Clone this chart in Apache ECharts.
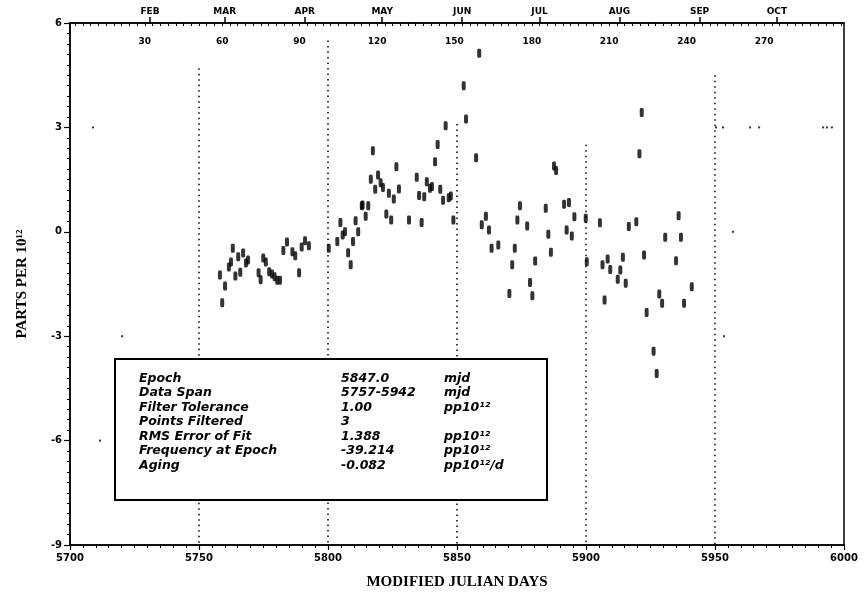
<!DOCTYPE html>
<html><head><meta charset="utf-8">
<script src="https://cdn.jsdelivr.net/npm/echarts@6/dist/echarts.min.js"></script>
<style>html,body{margin:0;padding:0;background:#fff}#c{width:864px;height:603px}</style>
</head><body><div id="c"></div>
<script>
// Measurements (MJD - 40000) and fractional frequency (parts per 10^12)
const mjd = [5758.1,5759.0,5760.1,5761.6,5762.4,5763.1,5764.1,5765.2,5766.0,5767.1,5768.2,5769.0,5773.1,5773.9,5774.9,5775.9,5777.2,5778.3,5779.3,5780.3,5781.4,5782.7,5784.1,5786.2,5787.3,5788.8,5789.8,5791.1,5792.6,5800.3,5803.6,5804.8,5805.7,5806.6,5807.8,5808.8,5809.7,5810.7,5811.7,5813.1,5813.4,5814.6,5815.6,5816.6,5817.4,5818.3,5819.4,5820.4,5821.3,5822.6,5823.6,5824.5,5825.5,5826.5,5827.5,5831.4,5834.4,5835.3,5836.3,5837.3,5838.3,5839.5,5840.3,5841.5,5842.5,5843.5,5844.6,5845.6,5846.8,5847.6,5848.6,5852.6,5853.5,5857.4,5858.6,5859.6,5861.2,5862.4,5863.4,5866.0,5870.3,5871.4,5872.4,5873.4,5874.4,5877.2,5878.3,5879.2,5880.3,5884.4,5885.4,5886.4,5887.6,5888.4,5891.5,5892.5,5893.4,5894.5,5895.5,5899.9,5900.3,5905.4,5906.4,5907.2,5908.4,5909.4,5912.3,5913.3,5914.3,5915.4,5916.6,5919.5,5920.7,5921.6,5922.5,5923.5,5926.2,5927.4,5928.4,5929.5,5930.7,5934.9,5935.9,5936.8,5938.0,5941.0];
const ppt = [-1.24,-2.04,-1.56,-1.01,-0.87,-0.47,-1.27,-0.72,-1.16,-0.61,-0.90,-0.81,-1.18,-1.38,-0.75,-0.87,-1.15,-1.21,-1.29,-1.39,-1.39,-0.54,-0.29,-0.57,-0.69,-1.18,-0.44,-0.26,-0.40,-0.47,-0.28,0.27,-0.09,0.00,-0.60,-0.95,-0.28,0.32,0.00,0.75,0.77,0.45,0.75,1.51,2.33,1.22,1.63,1.41,1.27,0.51,1.11,0.34,0.94,1.87,1.23,0.34,1.57,1.04,0.27,1.01,1.44,1.25,1.30,2.01,2.51,1.22,0.91,3.05,0.98,1.03,0.34,4.20,3.24,2.13,5.13,0.20,0.45,0.05,-0.47,-0.38,-1.77,-0.95,-0.47,0.34,0.75,0.17,-1.46,-1.84,-0.84,0.68,-0.07,-0.59,1.89,1.76,0.79,0.05,0.84,-0.12,0.43,0.39,-0.86,0.26,-0.95,-1.96,-0.78,-1.08,-1.36,-1.10,-0.73,-1.48,0.15,0.29,2.24,3.43,-0.67,-2.32,-3.43,-4.07,-1.79,-2.05,-0.16,-0.83,0.46,-0.16,-2.05,-1.58];

// Top axis: day of year (MJD 5700 = day 1)
const dayLabels = [30,60,90,120,150,180,210,240,270];
const monthStarts = [32,61,92,122,153,183,214,245,275];
const monthNames = ['FEB','MAR','APR','MAY','JUN','JUL','AUG','SEP','OCT'];

// Dotted vertical reference lines (MJD and the value where they start)
const refLineMjd = [5750,5800,5850,5900,5950];
const refLineTop = [4.7,5.5,3.1,2.5,4.5];

// Sparse stray grid dots
const dotMjd = [5708.9,5720.2,5711.6,5950.4,5953.1,5963.6,5967.1,5991.9,5993.4,5995.3,5957.0,5953.5];
const dotVal = [3,-3,-6,3,3,3,3,3,3,3,0,-3];

// Fit summary box
const legendLabels = ['Epoch','Data Span','Filter Tolerance','Points Filtered','RMS Error of Fit','Frequency at Epoch','Aging'];
const legendValues = ['5847.0','5757-5942','1.00','3','1.388','-39.214','-0.082'];
const legendUnits = ['mjd','mjd','pp10¹²','','pp10¹²','pp10¹²','pp10¹²/d'];

const tickFont = {fontFamily:'DejaVu Sans', fontWeight:'bold', fontSize:10, color:'#000'};
const blk = {color:'#000'};
const plain = (v)=>String(v);

const dayTicks = [];
for (let d = 3; d <= 300; d += 3) dayTicks.push(d);

const legendChildren = [{
  type:'rect', z:100, shape:{x:0,y:0,width:432,height:141},
  style:{fill:'#fff', stroke:'#000', lineWidth:2}
}];
legendLabels.forEach((t,i)=>{
  const y = 19.5 + i*14.5;
  const st = {fontFamily:'DejaVu Sans', fontStyle:'italic', fontWeight:'bold', fontSize:12.5, fill:'#000', verticalAlign:'middle'};
  legendChildren.push({type:'text', z:101, style:Object.assign({text:t, x:24, y:y}, st)});
  legendChildren.push({type:'text', z:101, style:Object.assign({text:legendValues[i], x:226, y:y}, st)});
  if (legendUnits[i]) legendChildren.push({type:'text', z:101, style:Object.assign({text:legendUnits[i], x:329, y:y}, st)});
});

const chart = echarts.init(document.getElementById('c'), null, {renderer:'canvas'});
chart.setOption({
  animation:false,
  backgroundColor:'#fff',
  grid:{left:70, right:20, top:23, bottom:58, show:true, borderColor:'#000', borderWidth:1.5},
  xAxis:[{
    type:'value', min:5700, max:6000, interval:50, position:'bottom',
    axisLine:{show:true, onZero:false, lineStyle:{color:'#000', width:1.5}},
    axisTick:{show:true, length:5, lineStyle:{color:'#000', width:1.2}},
    minorTick:{show:true, splitNumber:10, length:3, lineStyle:{color:'#000', width:1}},
    splitLine:{show:false},
    axisLabel:Object.assign({margin:8, formatter:plain}, tickFont),
    name:'MODIFIED JULIAN DAYS', nameLocation:'middle', nameGap:30,
    nameTextStyle:{fontFamily:'Liberation Serif', fontWeight:'bold', fontSize:15, color:'#000'}
  },{
    type:'value', min:1, max:301, position:'top',
    axisLine:{show:true, onZero:false, lineStyle:{color:'#000', width:1.5}},
    axisTick:{show:true, inside:true, length:3, customValues:dayTicks, lineStyle:{color:'#000', width:1}},
    splitLine:{show:false},
    axisLabel:Object.assign({inside:true, margin:14, customValues:dayLabels, formatter:plain}, tickFont, {fontSize:9})
  },{
    type:'value', min:1, max:301, position:'top',
    axisLine:{show:false, onZero:false},
    axisTick:{show:true, length:6, customValues:monthStarts, lineStyle:{color:'#000', width:1.5}},
    splitLine:{show:false},
    axisLabel:Object.assign({margin:7, customValues:monthStarts,
      formatter:(v)=>monthNames[monthStarts.indexOf(v)] || ''}, tickFont, {fontSize:9})
  }],
  yAxis:[{
    type:'value', min:-9, max:6, interval:3,
    axisLine:{show:true, onZero:false, lineStyle:{color:'#000', width:1.5}},
    axisTick:{show:true, length:6, lineStyle:{color:'#000', width:1.2}},
    minorTick:{show:true, splitNumber:10, length:3, lineStyle:{color:'#000', width:1}},
    splitLine:{show:false},
    axisLabel:Object.assign({margin:8, formatter:plain}, tickFont),
    name:'PARTS PER 10¹²', nameLocation:'middle', nameGap:40,
    nameTextStyle:{fontFamily:'Liberation Serif', fontWeight:'bold', fontSize:15, color:'#000'}
  }],
  series:[{
    type:'scatter', name:'refs', xAxisIndex:0, yAxisIndex:0, data:[], silent:true, z:1,
    markLine:{
      silent:true, symbol:['none','none'], label:{show:false}, z:1,
      lineStyle:{color:'#000', width:1.5, type:[1.5,4]},
      data: refLineMjd.map((m,i)=>[{coord:[m, refLineTop[i]]},{coord:[m, -9]}])
    }
  },{
    type:'scatter', name:'dots', xAxisIndex:0, yAxisIndex:0, silent:true, z:2,
    symbol:'rect', symbolSize:2, itemStyle:blk,
    data: dotMjd.map((m,i)=>[m, dotVal[i]])
  },{
    type:'scatter', name:'freq', xAxisIndex:0, yAxisIndex:0, silent:true, z:3,
    symbol:'roundRect', symbolSize:[4,9], itemStyle:blk,
    data: mjd.map((m,i)=>[m, ppt[i]])
  }],
  graphic:[{type:'group', left:114, top:358, z:100, zlevel:1, children:legendChildren}]
});
</script>
</body></html>
